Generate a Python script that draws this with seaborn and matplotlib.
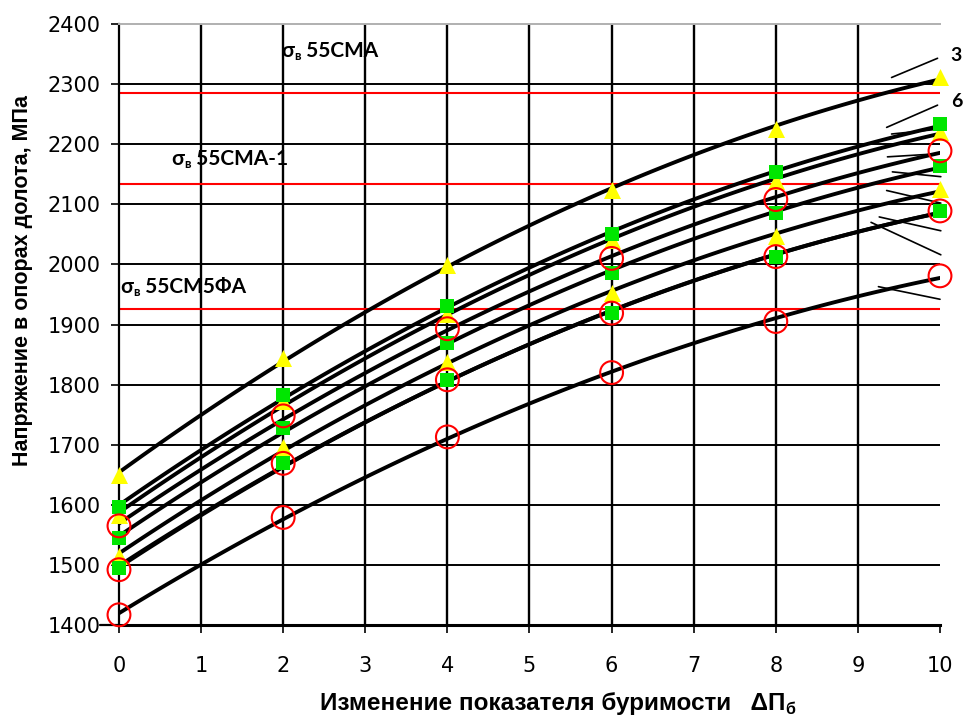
import numpy as np
import pandas as pd
import seaborn as sns
import matplotlib.pyplot as plt
from matplotlib.transforms import offset_copy

# drillability change and stress values
x_vals = [0, 2, 4, 6, 8, 10]
series = {
    's1': ('tri', [1650, 1844, 1999, 2124, 2225, 2312]),
    's2': ('sq',  [1596, 1782, 1931, 2050, 2153, 2233]),
    's3': ('tri', [1583, 1772, 1917, 2040, 2138, 2221]),
    's4': ('circ', [1565, 1748, 1893, 2010, 2108, 2189]),
    's5': ('sq',  [1544, 1727, 1870, 1986, 2085, 2164]),
    's6': ('tri', [1515, 1696, 1838, 1952, 2047, 2125]),
    's7': ('sq',  [1495, 1669, 1808, 1919, 2013, 2089]),
    's8': ('circ', [1492, 1669, 1808, 1919, 2013, 2089]),
    's9': ('circ', [1417, 1579, 1713, 1820, 1905, 1981]),
}
# ultimate strength of steels
strength_vals = [2285, 2133, 1925]
strength_names = ['55СМА', '55СМА-1', '55СМ5ФА']
strength_pos = [(1.98, 2345), (0.64, 2165), (0.02, 1952)]

x_ticks = list(range(0, 11))
y_ticks = list(range(1400, 2401, 100))

# leader lines at right edge and the curve numbers that survive
leader_lines = [((9.41, 2311), (9.97, 2343)), ((9.35, 2228), (9.97, 2265)),
                ((9.41, 2217), (9.91, 2224)), ((9.36, 2179), (9.96, 2184)),
                ((9.42, 2154), (10.01, 2146)), ((9.35, 2123), (10.01, 2102)),
                ((9.26, 2079), (10.01, 2056)), ((9.16, 2070), (10.01, 2016)),
                ((9.25, 1963), (10.0, 1942))]
curve_labels = [('3', 10.2, 2348), ('6', 10.2, 2271)]

pts = []
curves = []
xf = np.linspace(0, 10, 101)
for name, (kind, vals) in series.items():
    for xv, yv in zip(x_vals, vals):
        pts.append({'series': name, 'kind': kind, 'x': xv, 'y': yv})
    coef = np.polyfit(x_vals, vals, 2)
    for xv in xf:
        curves.append({'series': name, 'x': xv, 'y': np.polyval(coef, xv)})
pts = pd.DataFrame(pts)
curves = pd.DataFrame(curves)

sns.set_style('white', {'text.color': 'black', 'xtick.color': 'black',
                        'ytick.color': 'black', 'axes.labelcolor': 'black'})
fig = plt.figure(figsize=(9.65, 7.17), dpi=100)
ax = fig.add_axes([0.1233, 0.1283, 0.8508, 0.8382])

for yv in y_ticks[1:-1]:
    ax.axhline(yv, color='black', lw=1.4, zorder=0.5)
for xv in x_ticks[1:-1]:
    ax.axvline(xv, color='black', lw=1.7, zorder=0.5)

for v in strength_vals:
    ax.plot([0, 10], [v, v], color='#ff0000', lw=1.5, zorder=1)

sns.lineplot(data=curves, x='x', y='y', units='series', estimator=None,
             color='black', lw=2.8, ax=ax, legend=False, zorder=2)

sns.scatterplot(data=pts[pts.kind == 'tri'], x='x', y='y', marker='^', color='#ffff00',
                s=150, linewidth=0, ax=ax, clip_on=False, zorder=3)
sns.scatterplot(data=pts[pts.kind == 'sq'], x='x', y='y', marker='s', color='#00e600',
                s=90, linewidth=0, ax=ax, clip_on=False, zorder=4)
ax.scatter(pts[pts.kind == 'circ'].x, pts[pts.kind == 'circ'].y, marker='o', s=270,
           facecolors='none', edgecolors='#ff0000', linewidths=1.5, clip_on=False, zorder=5)

for (x0, y0), (x1, y1) in leader_lines:
    ax.plot([x0, x1], [y0, y1], color='black', lw=1.2, clip_on=False, zorder=2)

# bottom axis line runs out to the 1400 label
ax.plot([-0.23, 0], [1400, 1400], color='black', lw=1.6, clip_on=False)

ax.set_xlim(0, 10)
ax.set_ylim(1400, 2400)
ax.set_xticks(x_ticks)
ax.set_yticks(y_ticks)
ax.set_xlabel('')
ax.set_ylabel('')
ax.tick_params(axis='x', direction='out', length=6, width=1.2, pad=16, labelsize=15,
               bottom=True, colors='black')
ax.tick_params(axis='y', direction='out', length=6, width=1.2, pad=7, labelsize=15,
               left=True, colors='black')
for lab in ax.get_xticklabels() + ax.get_yticklabels():
    lab.set_family('DejaVu Sans')

ax.spines['right'].set_visible(False)
ax.spines['top'].set_color('#b0b0b0')
ax.spines['top'].set_linewidth(1.4)
ax.spines['left'].set_color('black')
ax.spines['left'].set_linewidth(1.6)
ax.spines['bottom'].set_color('black')
ax.spines['bottom'].set_linewidth(2.2)

renderer = fig.canvas.get_renderer()


def draw_parts(x, y, parts, transform, **kw):
    dx = 0
    for s, size, dy in parts:
        t = fig.text(x, y, s, fontsize=size, va='baseline', ha='left',
                     transform=offset_copy(transform, fig=fig, x=dx, y=dy, units='dots'), **kw)
        dx += t.get_window_extent(renderer).width
    return dx


for name, (px, py) in zip(strength_names, strength_pos):
    draw_parts(px, py, [('σ', 15, 0), ('в', 9.5, -3), (' ' + name, 15, 0)], ax.transData,
               family='Lato', fontweight='bold', color='black')

for s, lx, ly in curve_labels:
    ax.text(lx, ly, s, fontsize=14, family='Lato', fontweight='bold', ha='center', va='center',
            clip_on=False, color='black')

fig.text(0.023, 1 - 280 / 717, 'Напряжение в опорах долота, МПа', rotation=90,
         ha='center', va='center', fontsize=15.5, fontweight='bold', family='Liberation Sans',
         color='black')

draw_parts(320 / 965, 1 - 710 / 717,
           [('Изменение показателя буримости   ΔП', 17.5, 0), ('б', 11.5, -4)],
           fig.transFigure, family='Liberation Sans', fontweight='bold', color='black')

fig.savefig('out.png', dpi=100)
